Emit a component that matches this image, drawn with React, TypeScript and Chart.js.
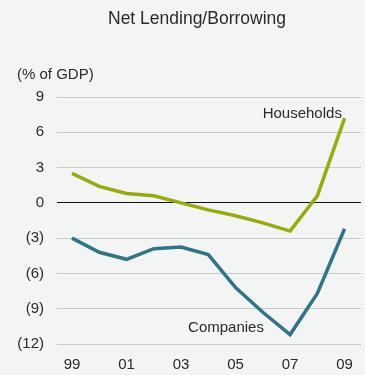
import React, { useEffect, useRef } from "react";
import { Chart, registerables } from "chart.js";

Chart.register(...registerables);

// Years 1999–2009
const years = [1999, 2000, 2001, 2002, 2003, 2004, 2005, 2006, 2007, 2008, 2009];
// Net lending/borrowing, % of GDP
const households = [2.5, 1.4, 0.8, 0.6, 0.0, -0.6, -1.1, -1.7, -2.4, 0.6, 7.2];
const companies = [-3.0, -4.2, -4.8, -3.9, -3.75, -4.4, -7.2, -9.3, -11.2, -7.7, -2.2];
const xTickYears = [1999, 2001, 2003, 2005, 2007, 2009];
const yTicks = [9, 6, 3, 0, -3, -6, -9, -12];

const FONT = "'Liberation Sans', Arial, sans-serif";
const BG = "#f3f4f4";
const HH_COLOR = "#9aaa0a";
const CO_COLOR = "#2f7586";

const fmtY = (v: number) => (v < 0 ? `(${Math.abs(v)})` : `${v}`);
const fmtX = (v: number) => String(v % 100).padStart(2, "0");

const textPlugin = {
  id: "chartText",
  beforeDraw(chart: any) {
    const { ctx, width, height } = chart;
    ctx.save();
    ctx.fillStyle = BG;
    ctx.fillRect(0, 0, width, height);
    ctx.restore();
  },
  afterDraw(chart: any) {
    const { ctx } = chart;
    const x = chart.scales.x;
    const y = chart.scales.y;
    ctx.save();
    ctx.fillStyle = "#2a2a2a";
    ctx.textBaseline = "middle";
    ctx.font = `17.5px ${FONT}`;
    ctx.textAlign = "center";
    ctx.fillText("Net Lending/Borrowing", 197, 19);
    ctx.font = `15px ${FONT}`;
    ctx.textAlign = "left";
    ctx.fillText("(% of GDP)", 17, 75);
    ctx.textAlign = "right";
    ctx.fillText("Households", x.getPixelForValue(2008.9), y.getPixelForValue(7.55));
    ctx.textAlign = "center";
    ctx.fillText("Companies", x.getPixelForValue(2004.65), y.getPixelForValue(-10.65));
    ctx.restore();
  },
};

export default function App() {
  const ref = useRef<HTMLCanvasElement | null>(null);

  useEffect(() => {
    document.body.style.margin = "0";
    document.body.style.background = BG;
    const canvas = ref.current!;
    const chart = new Chart(canvas, {
      type: "line",
      data: {
        datasets: [
          {
            label: "Households",
            data: years.map((yr, i) => ({ x: yr, y: households[i] })),
            borderColor: HH_COLOR,
            borderWidth: 3.5,
            pointRadius: 0,
            tension: 0,
          },
          {
            label: "Companies",
            data: years.map((yr, i) => ({ x: yr, y: companies[i] })),
            borderColor: CO_COLOR,
            borderWidth: 3.5,
            pointRadius: 0,
            tension: 0,
          },
        ],
      },
      options: {
        animation: false,
        responsive: false,
        layout: { padding: { top: 97, right: 1, bottom: 0, left: 0 } },
        plugins: {
          legend: { display: false },
          title: { display: false },
          tooltip: { enabled: false },
        },
        scales: {
          x: {
            type: "linear",
            min: 1998.45,
            max: 2009.6,
            afterBuildTicks: (s: any) => {
              s.ticks = xTickYears.map((v) => ({ value: v }));
            },
            ticks: {
              callback: (v: any) => fmtX(Number(v)),
              font: { family: FONT, size: 15 },
              color: "#2a2a2a",
              padding: 12,
              maxRotation: 0,
              autoSkip: false,
            },
            grid: { display: false, drawTicks: false },
            border: { display: false },
            afterFit: (s: any) => {
              s.height = 31;
            },
          },
          y: {
            min: -12,
            max: 9,
            afterBuildTicks: (s: any) => {
              s.ticks = yTicks.map((v) => ({ value: v }));
            },
            ticks: {
              callback: (v: any) => fmtY(Number(v)),
              font: { family: FONT, size: 15 },
              color: "#2a2a2a",
              padding: 13,
            },
            grid: {
              drawTicks: false,
              lineWidth: 1,
              color: (c: any) => (c.tick && c.tick.value === 0 ? "#111111" : "#c9c9c9"),
            },
            border: { display: false },
            afterFit: (s: any) => {
              s.width = 57;
            },
          },
        },
      },
      plugins: [textPlugin],
    });
    return () => chart.destroy();
  }, []);

  return <canvas ref={ref} width={365} height={375} style={{ display: "block" }} />;
}
